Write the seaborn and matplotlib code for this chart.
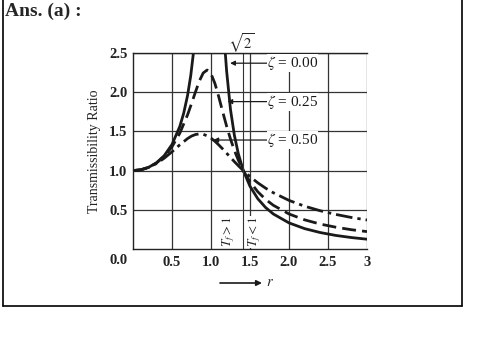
import seaborn as sns
import matplotlib.pyplot as plt
from matplotlib.lines import Line2D

# values (frequency ratio r, transmissibility ratio T)
r_zeta0_left = [0.0, 0.1, 0.2, 0.3, 0.4, 0.5, 0.6, 0.65, 0.7, 0.74, 0.775]
t_zeta0_left = [1.0, 1.010, 1.042, 1.099, 1.190, 1.333, 1.563, 1.732, 1.961, 2.210, 2.504]
r_zeta0_right = [1.183, 1.2, 1.25, 1.3, 1.35, 1.414, 1.5, 1.6, 1.7, 1.8, 2.0, 2.2, 2.4, 2.6, 2.8, 3.0]
t_zeta0_right = [2.503, 2.273, 1.778, 1.449, 1.216, 1.0, 0.8, 0.641, 0.529, 0.446, 0.333, 0.260,
                 0.210, 0.173, 0.146, 0.125]

r_damped = [0.0, 0.1, 0.2, 0.3, 0.4, 0.5, 0.6, 0.7, 0.75, 0.8, 0.85, 0.9, 0.95, 1.0, 1.05, 1.1,
            1.15, 1.2, 1.25, 1.3, 1.35, 1.414, 1.5, 1.6, 1.7, 1.8, 2.0, 2.2, 2.4, 2.6, 2.8, 3.0]
t_zeta025 = [1.0, 1.010, 1.041, 1.096, 1.181, 1.304, 1.477, 1.713, 1.854, 2.001, 2.141, 2.245,
             2.283, 2.236, 2.112, 1.939, 1.750, 1.567, 1.402, 1.258, 1.134, 1.0, 0.857, 0.730,
             0.633, 0.557, 0.447, 0.372, 0.318, 0.278, 0.246, 0.222]
t_zeta050 = [1.0, 1.010, 1.040, 1.090, 1.158, 1.240, 1.329, 1.409, 1.440, 1.460, 1.468, 1.463,
             1.444, 1.414, 1.374, 1.327, 1.276, 1.222, 1.168, 1.114, 1.063, 1.0, 0.923, 0.844,
             0.776, 0.717, 0.620, 0.546, 0.488, 0.441, 0.402, 0.370]

zeta_labels = ["0.00", "0.25", "0.50"]
x_ticks = [0.5, 1.0, 1.5, 2.0, 2.5, 3.0]
x_ticklabels = ["0.5", "1.0", "1.5", "2.0", "2.5", "3"]
y_ticks = [0.5, 1.0, 1.5, 2.0, 2.5]
y_ticklabels = ["0.5", "1.0", "1.5", "2.0", "2.5"]
sqrt2_r = 1.414

sns.set_style("white")
plt.rcParams["font.family"] = ["Liberation Serif", "DejaVu Serif"]
plt.rcParams["mathtext.fontset"] = "stix"

fig = plt.figure(figsize=(4.96, 3.51), dpi=100)
ax = fig.add_axes([133 / 496, 102 / 351, 234 / 496, 196 / 351])

ink = "#1a1a1a"
lw = 2.0
sns.lineplot(x=r_zeta0_left, y=t_zeta0_left, ax=ax, color=ink, lw=lw)
sns.lineplot(x=r_zeta0_right, y=t_zeta0_right, ax=ax, color=ink, lw=lw)
sns.lineplot(x=r_damped, y=t_zeta025, ax=ax, color=ink, lw=lw, linestyle=(0, (5, 2.2)))
sns.lineplot(x=r_damped, y=t_zeta050, ax=ax, color=ink, lw=lw, linestyle=(0, (6, 1.8, 1.2, 1.8)))

ax.set_xlim(0, 3)
ax.set_ylim(0, 2.5)
ax.set_xticks(x_ticks)
ax.set_xticklabels(x_ticklabels)
ax.set_yticks(y_ticks)
ax.set_yticklabels(y_ticklabels)
ax.tick_params(length=0, labelsize=10.5, colors="#222222")
ax.tick_params(axis="x", pad=5)
ax.tick_params(axis="y", pad=4)
for lab in ax.get_xticklabels() + ax.get_yticklabels():
    lab.set_fontweight("bold")
ax.grid(True, color="#333333", lw=0.9)
ax.axvline(sqrt2_r, color="#333333", lw=0.8)
for side in ["left", "bottom", "top"]:
    ax.spines[side].set_color("#222222")
    ax.spines[side].set_linewidth(1.0)
ax.spines["right"].set_visible(False)

ax.set_ylabel("Transmissibility Ratio", fontsize=10, color="#222222", labelpad=6)
ax.text(-0.19, -0.15, "0.0", fontsize=10.5, fontweight="bold", color="#222222",
        ha="center", va="center", clip_on=False)

# curve labels with leader arrows
label_y = [2.37, 1.88, 1.39]
arrow_tip = [1.245, 1.21, 1.03]
for lab, y, tip in zip(zeta_labels, label_y, arrow_tip):
    ax.annotate("", xy=(tip, y), xytext=(1.72, y),
                arrowprops=dict(arrowstyle="-|>", color=ink, lw=0.9, mutation_scale=7,
                                shrinkA=0, shrinkB=0))
    ax.text(1.72, y, r"$\zeta$ = " + lab, fontsize=11, color=ink, ha="left", va="center",
            bbox=dict(fc="white", ec="none", pad=0))

ax.text(sqrt2_r - 0.03, 2.62, r"$\sqrt{2}$", fontsize=10.5, ha="center", va="center",
        clip_on=False)
ax.text(1.22, 0.22, r"$T_f > 1$", fontsize=9.5, rotation=90, ha="center", va="center",
        bbox=dict(fc="white", ec="none", pad=0.3))
ax.text(1.56, 0.22, r"$T_f < 1$", fontsize=9.5, rotation=90, ha="center", va="center",
        bbox=dict(fc="white", ec="none", pad=0.3))

# "→ r" below the axis
ax.annotate("", xy=(262, 68), xytext=(220, 68), xycoords="figure pixels",
            textcoords="figure pixels",
            arrowprops=dict(arrowstyle="-|>", color=ink, lw=1.2, mutation_scale=8,
                            shrinkA=0, shrinkB=0))
fig.text(266 / 496, 68 / 351, r"$r$", fontsize=10.5, ha="left", va="center")

fig.text(5 / 496, 1 - 3 / 351, "Ans. (a) :", fontsize=14, fontweight="bold",
         ha="left", va="top")

# outer frame
for xs, ys in [([2.5, 2.5], [45, 352]), ([461.5, 461.5], [45, 352]), ([2.5, 461.5], [45, 45])]:
    fig.add_artist(Line2D([x / 496 for x in xs], [y / 351 for y in ys], color="black", lw=1.2))

fig.savefig("out.png", dpi=100)
